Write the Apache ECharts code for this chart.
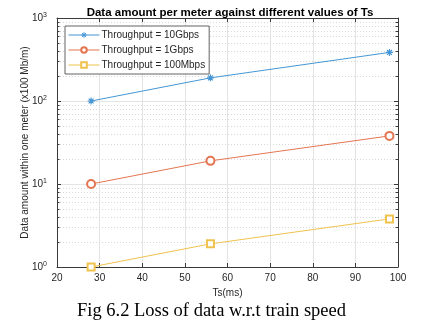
<!DOCTYPE html>
<html><head><meta charset="utf-8">
<script src="https://cdn.jsdelivr.net/npm/echarts@6/dist/echarts.min.js"></script>
<style>html,body{margin:0;padding:0;background:#fff}#c{width:423px;height:331px}</style>
</head><body><div id="c"></div>
<script>
var ts = [28, 56, 98];
var seriesNames = ['Throughput = 10Gbps', 'Throughput = 1Gbps', 'Throughput = 100Mbps'];
var data10G = [100, 190, 385];
var data1G = [10, 19, 38];
var data100M = [1, 1.9, 3.8];
var xTicks = [20, 30, 40, 50, 60, 70, 80, 90, 100];
var yMinorTicks = [2,3,4,5,6,7,8,9,20,30,40,50,60,70,80,90,200,300,400,500,600,700,800,900];

var blue = '#4596d4', orange = '#e47550', yellow = '#f0c24e';
var axisColor = '#3a3a3a', gridColor = '#e4e4e4', textColor = '#262626';
var font = 'Liberation Sans';
var asterisk = 'path://M0,-10L0,10M-10,0L10,0M-7,-7L7,7M-7,7L7,-7';

function pair(a){ return ts.map(function(t,i){ return [t, a[i]]; }); }

var chart = echarts.init(document.getElementById('c'), null, {renderer:'canvas'});
var supRich = { b: {fontSize: 10, fontFamily: font, color: textColor}, s: {fontSize: 7, fontFamily: font, color: textColor, padding: [0,0,6,0]} };
var option = {
  animation: false,
  title: { text: 'Data amount per meter against different values of Ts', left: 225, textAlign: 'center', top: 2,
    textStyle: {fontSize: 11.5, fontWeight: 'bold', fontFamily: font, color: '#000'} },
  graphic: [{ type: 'text', left: 'center', top: 302, style: { text: 'Fig 6.2 Loss of data w.r.t train speed', fontSize: 18.5, fontFamily: 'Liberation Serif', fill: '#000' } }],
  legend: { orient: 'vertical', left: 65, top: 26, itemWidth: 31, itemHeight: 7, itemGap: 5,
    data: seriesNames,
    backgroundColor: '#fff', borderColor: axisColor, borderWidth: 0.8, padding: [4, 4, 4, 3],
    lineStyle: {width: 1}, itemStyle: {borderWidth: 1},
    textStyle: {fontSize: 10, fontFamily: font, color: textColor, padding: [0,0,0,-3]} },
  grid: { left: 57, right: 25, top: 18, bottom: 64 },
  xAxis: [{ type: 'value', min: 20, max: 100, interval: 10, name: 'Ts(ms)', nameLocation: 'middle', nameGap: 20,
      nameTextStyle: {fontSize: 10, fontFamily: font, color: textColor},
      axisLine: {lineStyle: {color: axisColor, width: 1}}, axisTick: {inside: true, length: 4, lineStyle: {color: axisColor}},
      axisLabel: {fontSize: 10, fontFamily: font, color: textColor, margin: 6},
      splitLine: {show: true, lineStyle: {color: gridColor, width: 1}} },
    { type: 'value', position: 'top', min: 20, max: 100, interval: 10,
      axisLine: {show: true, lineStyle: {color: axisColor, width: 1}}, axisTick: {inside: true, length: 4, lineStyle: {color: axisColor}},
      axisLabel: {show: false}, splitLine: {show: false} }],
  yAxis: [{ type: 'log', logBase: 10, min: 1, max: 1000, name: 'Data amount within one meter (x100 Mb/m)', nameLocation: 'middle', nameGap: 27,
      nameMoveOverlap: false,
      nameTextStyle: {fontSize: 10, fontFamily: font, color: textColor},
      axisLine: {show: true, lineStyle: {color: axisColor, width: 1}}, axisTick: {show: true, inside: true, length: 4, lineStyle: {color: axisColor}},
      axisLabel: {margin: 10, formatter: function(v){ var e = Math.round(Math.log10(v)); return '{b|10}{s|' + e + '}'; }, rich: supRich},
      splitLine: {show: true, lineStyle: {color: gridColor, width: 1}} },
    { type: 'log', logBase: 10, min: 1, max: 1000, position: 'right',
      axisLine: {show: true, lineStyle: {color: axisColor, width: 1}}, axisTick: {show: true, inside: true, length: 4, lineStyle: {color: axisColor}},
      axisLabel: {show: false}, splitLine: {show: false} }],
  series: [
    { type: 'custom', name: 'minor', z: 1, silent: true, data: yMinorTicks.map(function(v){ return [20, v]; }),
      renderItem: function(params, api){
        var cs = params.coordSys; var p = api.coord([20, api.value(1)]); var y = Math.round(p[1]) + 0.5;
        return { type: 'group', children: [
          { type: 'line', shape: {x1: cs.x, y1: y, x2: cs.x + cs.width, y2: y}, style: {stroke: '#d8d8d8', lineWidth: 1, lineDash: [1, 2]} },
          { type: 'line', shape: {x1: cs.x, y1: y, x2: cs.x + 2.5, y2: y}, style: {stroke: axisColor, lineWidth: 1} },
          { type: 'line', shape: {x1: cs.x + cs.width - 2.5, y1: y, x2: cs.x + cs.width, y2: y}, style: {stroke: axisColor, lineWidth: 1} }
        ]};
      } },
    { type: 'line', name: seriesNames[0], data: pair(data10G), z: 5, color: blue,
      symbol: asterisk, symbolSize: 7,
      lineStyle: {color: blue, width: 1}, itemStyle: {color: blue, borderColor: blue, borderWidth: 1.2} },
    { type: 'line', name: seriesNames[1], data: pair(data1G), z: 5, color: orange,
      symbol: 'emptyCircle', symbolSize: 8, lineStyle: {color: orange, width: 1}, itemStyle: {color: orange, borderColor: orange, borderWidth: 1} },
    { type: 'line', name: seriesNames[2], data: pair(data100M), z: 5, color: yellow,
      symbol: 'emptyRect', symbolSize: 7, lineStyle: {color: yellow, width: 1}, itemStyle: {color: yellow, borderColor: yellow, borderWidth: 1} }
  ]
};
chart.setOption(option);
</script></body></html>
